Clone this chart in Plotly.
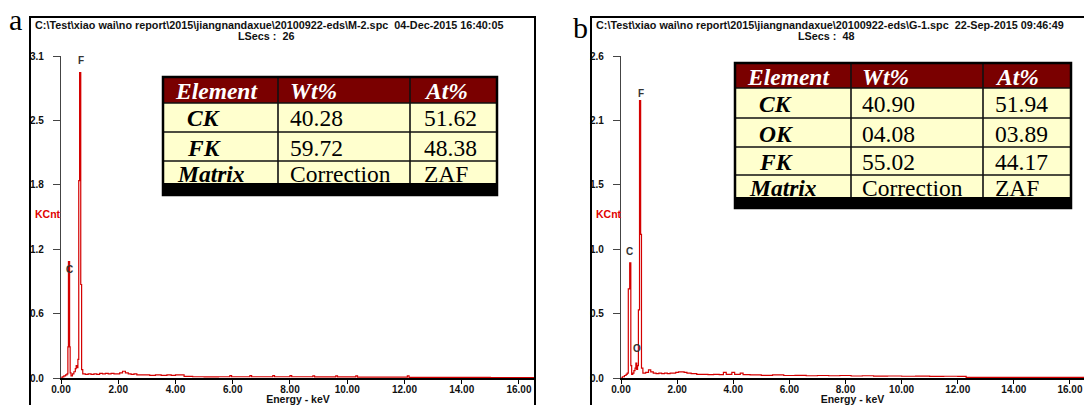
import plotly.graph_objects as go

W, H = 1084, 405

# ---------------- data ----------------
energy_a = [0.00, 0.04, 0.10, 0.16, 0.21, 0.24, 0.26, 0.30, 0.32, 0.35, 0.40, 0.45, 0.50, 0.53,
            0.56, 0.59, 0.62, 0.65, 0.69, 0.72, 0.76, 0.85, 0.95, 1.05, 1.15, 1.25, 1.35, 1.45,
            1.55, 1.65, 1.75, 1.85, 1.95, 2.05, 2.15, 2.25, 2.35, 2.45, 2.55, 2.65, 2.75, 2.90,
            3.10, 3.30, 3.50, 3.70, 3.85, 4.00, 4.20, 4.30, 4.60, 5.00, 5.50, 5.90, 5.96, 6.60,
            6.66, 7.40, 7.46, 8.00, 8.06, 8.80, 8.86, 9.60, 9.66, 10.30, 10.36, 11.00, 12.10,
            12.16, 13.00, 14.00, 15.00, 16.00, 16.56]
counts_a = [0.00, 0.010, 0.020, 0.030, 0.040, 0.30, 1.12, 0.30, 0.050, 0.020, 0.040, 0.060, 0.090, 0.120,
            0.100, 0.180, 1.90, 2.94, 0.90, 0.080, 0.040, 0.035, 0.040, 0.035, 0.040, 0.035, 0.045, 0.040,
            0.045, 0.040, 0.045, 0.040, 0.040, 0.050, 0.065, 0.050, 0.040, 0.035, 0.040, 0.030, 0.030, 0.030,
            0.025, 0.030, 0.025, 0.030, 0.025, 0.030, 0.030, 0.015, 0.012, 0.010, 0.012, 0.022, 0.012, 0.022,
            0.012, 0.022, 0.012, 0.022, 0.012, 0.020, 0.010, 0.020, 0.010, 0.020, 0.008, 0.008, 0.020,
            0.006, 0.006, 0.006, 0.005, 0.005, 0.005]

energy_b = [0.00, 0.05, 0.12, 0.18, 0.22, 0.26, 0.31, 0.35, 0.38, 0.42, 0.46, 0.50, 0.53, 0.56,
            0.59, 0.62, 0.66, 0.70, 0.73, 0.78, 0.88, 0.98, 1.06, 1.15, 1.25, 1.35, 1.45, 1.55,
            1.65, 1.75, 1.85, 1.95, 2.05, 2.15, 2.25, 2.35, 2.50, 2.70, 2.90, 3.10, 3.30, 3.50,
            3.65, 3.75, 3.95, 4.05, 4.25, 4.35, 4.60, 5.00, 5.40, 5.80, 6.20, 6.60, 7.00, 7.40,
            7.80, 8.20, 8.60, 9.00, 9.50, 10.00, 10.50, 11.00, 11.50, 12.00, 12.30, 13.00, 14.00,
            15.00, 16.00, 16.50]
counts_b = [0.00, 0.010, 0.020, 0.030, 0.040, 0.72, 0.93, 0.10, 0.030, 0.040, 0.060, 0.080, 0.120, 0.070,
            0.100, 0.55, 2.24, 1.16, 0.080, 0.040, 0.045, 0.065, 0.050, 0.040, 0.035, 0.040, 0.035, 0.040,
            0.035, 0.040, 0.040, 0.045, 0.050, 0.050, 0.045, 0.040, 0.035, 0.030, 0.030, 0.028, 0.030, 0.028,
            0.045, 0.030, 0.045, 0.030, 0.040, 0.028, 0.025, 0.022, 0.025, 0.020, 0.022, 0.018, 0.020, 0.018,
            0.020, 0.016, 0.018, 0.015, 0.016, 0.014, 0.015, 0.013, 0.014, 0.013, 0.005, 0.005, 0.005,
            0.005, 0.005, 0.005]

x_tick_vals = [0, 2, 4, 6, 8, 10, 12, 14, 16]
x_tick_text = ["0.00", "2.00", "4.00", "6.00", "8.00", "10.00", "12.00", "14.00", "16.00"]
y_tick_vals_a = [0, 0.62, 1.24, 1.86, 2.48, 3.1]
y_tick_text_a = ["0.0", "0.6", "1.2", "1.8", "2.5", "3.1"]
y_tick_vals_b = [0, 0.52, 1.04, 1.56, 2.08, 2.6]
y_tick_text_b = ["0.0", "0.5", "1.0", "1.5", "2.1", "2.6"]

header_a = r"C:\Test\xiao wai\no report\2015\jiangnandaxue\20100922-eds\M-2.spc&nbsp; 04-Dec-2015 16:40:05"
header_b = r"C:\Test\xiao wai\no report\2015\jiangnandaxue\20100922-eds\G-1.spc&nbsp; 22-Sep-2015 09:46:49"
lsecs_a = "LSecs :&nbsp; 26"
lsecs_b = "LSecs :&nbsp; 48"

peak_names_a = ["C", "F"]
peak_e_a = [0.28, 0.69]
peak_h_a = [1.04, 3.06]
peak_names_b = ["C", "O", "F"]
peak_e_b = [0.31, 0.57, 0.70]
peak_h_b = [1.02, 0.24, 2.30]

table_head = ["Element", "Wt%", "At%"]
elements_a = ["CK", "FK"]
wt_a = ["40.28", "59.72"]
at_a = ["51.62", "48.38"]
elements_b = ["CK", "OK", "FK"]
wt_b = ["40.90", "04.08", "55.02"]
at_b = ["51.94", "03.89", "44.17"]
matrix_row = ["Matrix", "Correction", "ZAF"]

# ---------------- helpers ----------------
def px(x):
    return x / W

def py(y):
    return 1 - y / H

RED = "#D40000"
SANS = "Liberation Sans, Arial, sans-serif"
SERIF = "Liberation Serif, Times New Roman, serif"

fig = go.Figure()
fig.add_trace(go.Scatter(x=energy_a, y=counts_a, mode="lines", line=dict(color=RED, width=1.2, shape="hv"),
                         xaxis="x", yaxis="y", showlegend=False, hoverinfo="skip"))
fig.add_trace(go.Scatter(x=energy_b, y=counts_b, mode="lines", line=dict(color=RED, width=1.2, shape="hv"),
                         xaxis="x2", yaxis="y2", showlegend=False, hoverinfo="skip"))

tickfont = dict(family=SANS, size=10, color="#111111", weight="bold")
common_x = dict(showgrid=False, zeroline=False, showline=True, linecolor="#000000", linewidth=1.6,
                ticks="outside", ticklen=4, tickcolor="#000000", tickwidth=1, tickvals=x_tick_vals,
                ticktext=x_tick_text, tickfont=tickfont, automargin=False, ticklabelstandoff=-3,
                title=dict(text="Energy - keV", font=dict(family=SANS, size=10.5, color="#111111", weight="bold"), standoff=2))
common_y = dict(showgrid=False, zeroline=False, showline=True, linecolor="#444444", linewidth=1.2,
                ticks="outside", ticklen=7, tickcolor="#444444", tickwidth=1, tickfont=tickfont,
                ticklabelstandoff=7, automargin=False)
ydom = [py(378), py(56)]
fig.update_layout(
    width=W, height=H, margin=dict(l=0, r=0, t=0, b=0, pad=0, autoexpand=False),
    paper_bgcolor="white", plot_bgcolor="rgba(0,0,0,0)",
    xaxis=dict(domain=[px(61), px(535)], range=[0, 16.56], anchor="y", **common_x),
    yaxis=dict(domain=ydom, range=[0, 3.1], anchor="x", tickvals=y_tick_vals_a, ticktext=y_tick_text_a, **common_y),
    xaxis2=dict(domain=[px(621), 1.0], range=[0, 16.5], anchor="y2", **common_x),
    yaxis2=dict(domain=ydom, range=[0, 2.6], anchor="x2", tickvals=y_tick_vals_b, ticktext=y_tick_text_b, **common_y),
)

shapes = []
annotations = []

def note(text, x, y, xanchor="left", yanchor="middle", font=None, **kw):
    d = dict(text=text, xref="paper", yref="paper", x=px(x), y=py(y), xanchor=xanchor, yanchor=yanchor,
             showarrow=False, font=font)
    d.update(kw)
    annotations.append(d)

# outer frames
shapes.append(dict(type="rect", xref="paper", yref="paper", x0=px(30), x1=px(535), y0=py(430), y1=py(17),
                   line=dict(color="#000000", width=2), fillcolor="rgba(0,0,0,0)", layer="above"))
shapes.append(dict(type="rect", xref="paper", yref="paper", x0=px(591), x1=px(1100), y0=py(430), y1=py(17),
                   line=dict(color="#000000", width=2), fillcolor="rgba(0,0,0,0)", layer="above"))

# panel letters
note("a", 15, 19, "center", "middle", dict(family=SERIF, size=30, color="#000000"))
note("b", 580, 28, "center", "middle", dict(family=SERIF, size=30, color="#000000"))

# headers
hfont = dict(family=SANS, size=10.8, color="#111111", weight="bold")
note(header_a, 33, 25, "left", "middle", hfont)
note(lsecs_a, 266, 36, "center", "middle", hfont)
note(header_b, 594, 25, "left", "middle", hfont)
note(lsecs_b, 826, 36, "center", "middle", hfont)

# KCnt labels
for xk in (33, 594):
    note("KCnt", xk, 214, "left", "middle", dict(family=SANS, size=10.5, color="#E00000", weight="bold"))

# peak labels
pfont = dict(family=SANS, size=10, color="#333333", weight="bold")
for n, e, h in zip(peak_names_a, peak_e_a, peak_h_a):
    annotations.append(dict(text=n, xref="x", yref="y", x=e, y=h, xanchor="center", yanchor="middle",
                            showarrow=False, font=pfont))
for n, e, h in zip(peak_names_b, peak_e_b, peak_h_b):
    annotations.append(dict(text=n, xref="x2", yref="y2", x=e, y=h, xanchor="center", yanchor="middle",
                            showarrow=False, font=pfont))

# tables
def add_table(left, right, top, head_bottom, row_bounds, band_bottom, cols, txt_x, name_x, els, wts, ats):
    bottom = row_bounds[-1]
    shapes.append(dict(type="rect", xref="paper", yref="paper", x0=px(left), x1=px(right), y0=py(bottom), y1=py(head_bottom),
                       fillcolor="#FFFFCE", line=dict(width=0), layer="above"))
    shapes.append(dict(type="rect", xref="paper", yref="paper", x0=px(left), x1=px(right), y0=py(head_bottom), y1=py(top),
                       fillcolor="#7A0000", line=dict(width=0), layer="above"))
    shapes.append(dict(type="rect", xref="paper", yref="paper", x0=px(left), x1=px(right), y0=py(band_bottom), y1=py(bottom),
                       fillcolor="#000000", line=dict(width=0), layer="above"))
    for yb in [head_bottom] + row_bounds[:-1]:
        shapes.append(dict(type="line", xref="paper", yref="paper", x0=px(left), x1=px(right), y0=py(yb), y1=py(yb),
                           line=dict(color="#111111", width=1.6), layer="above"))
    for xc in cols:
        shapes.append(dict(type="line", xref="paper", yref="paper", x0=px(xc), x1=px(xc), y0=py(bottom), y1=py(top),
                           line=dict(color="#111111", width=1.6), layer="above"))
    shapes.append(dict(type="rect", xref="paper", yref="paper", x0=px(left), x1=px(right), y0=py(band_bottom), y1=py(top),
                       fillcolor="rgba(0,0,0,0)", line=dict(color="#000000", width=2.5), layer="above"))
    big = 23.5
    sf = dict(family=SERIF, size=big, color="#000000")
    hy = (top + head_bottom) / 2
    for i, t in enumerate(table_head):
        note("<b><i>%s</i></b>" % t, txt_x[i], hy + 1, "left", "middle", dict(family=SERIF, size=big, color="white"))
    bounds = [head_bottom] + row_bounds
    for r, (el, wt, at) in enumerate(zip(els, wts, ats)):
        cy = (bounds[r] + bounds[r + 1]) / 2 + 1
        note("<b><i>%s</i></b>" % el, name_x, cy, "left", "middle", sf)
        note(wt, txt_x[1], cy, "left", "middle", sf)
        note(at, txt_x[2], cy, "left", "middle", sf)
    # matrix row, clipped by the black band
    mt = bounds[-2]
    mb = bounds[-1]
    mtexts = ["<b><i>%s</i></b>" % matrix_row[0], matrix_row[1], matrix_row[2]]
    mxs = [txt_x[0] + 2, txt_x[1], txt_x[2]]
    for t, xx in zip(mtexts, mxs):
        note(t, xx, mt - 2, "left", "top", sf, height=mb - mt + 2, valign="top")

add_table(163, 497, 77, 103, [132, 161, 183], 195, [278, 410], [173, 288, 422], 185, elements_a, wt_a, at_a)
add_table(735, 1071, 63, 88, [118, 147, 175, 197], 208, [851, 983], [745, 860, 993], 757, elements_b, wt_b, at_b)

fig.update_layout(shapes=shapes, annotations=annotations)
fig.write_html("out.html", config={"displayModeBar": False},
               post_script="document.body.style.margin='0';document.body.style.overflow='hidden';")
